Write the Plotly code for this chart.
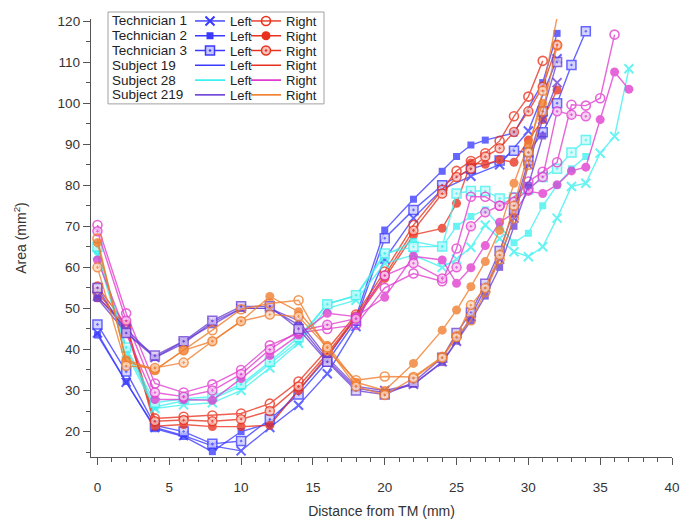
import plotly.graph_objects as go

# ---------------- data (distance from TM in mm, area in mm^2) ----------------
base = [0, 2, 4, 6, 8, 10, 12, 14, 16, 18, 20, 22, 24]

s19_left_t1_x = base + [26, 28, 30, 32]
s19_left_t1_y = [44, 32, 21, 19, 16.5, 15.3, 21, 26.4, 34.1, 45.6, 62, 72, 79, 82.2, 85, 93.2, 110.8]
s19_left_t2_x = base + [25, 26, 27, 29, 31, 32]
s19_left_t2_y = [43.5, 32.2, 20.7, 18.8, 15.1, 20, 22, 30, 38, 48, 69.1, 76.6, 83.4, 87, 89.8, 91, 92.7, 105, 117]
s19_left_t3_x = base + [26, 28, 29, 30, 31, 32, 33, 34]
s19_left_t3_y = [46.1, 34.6, 21.5, 20, 17, 17.7, 23, 29, 37, 47, 67.1, 74, 80, 84, 86, 88.4, 88, 92.9, 100, 109.3, 117.5]

s19_right_t1_x = base + [25, 26, 27, 28, 29, 30, 31]
s19_right_t1_y = [55.3, 46, 23.2, 23.6, 23.9, 24.4, 26.8, 32.2, 40, 48.5, 59, 70.3, 78.9, 83.5, 85.9, 87.8, 90.8, 96.8, 101.6, 110.3]
s19_right_t2_x = base + [25, 26, 27, 28, 29, 30, 31, 32]
s19_right_t2_y = [52.6, 46.1, 21.3, 21.7, 21.2, 21.2, 21.5, 30, 38.5, 47.6, 57.3, 67.9, 69.5, 75.6, 85.4, 85.1, 86.2, 85.6, 91, 96, 103.2]
s19_right_t3_x = base + [25, 26, 27, 28, 29, 30, 31, 32]
s19_right_t3_y = [54, 45, 22.5, 22.8, 22.5, 23, 25, 31, 39, 48, 58, 69, 78, 82, 84, 87, 89, 93, 98, 104, 114.2]

s28_left_t1_x = base + [25, 26, 27, 28, 29, 30, 31, 32, 33, 34, 35, 36, 37]
s28_left_t1_y = [63, 39, 25.6, 26.5, 27, 30, 35.5, 41.5, 50, 52, 61, 63, 60, 62, 64.9, 70.3, 67, 63.8, 62.6, 65, 72, 79.7, 80.5, 87.8, 91.9, 108.4]
s28_left_t2_x = base + [25, 26, 27, 28, 29, 30, 31, 32, 33, 34]
s28_left_t2_y = [64, 40, 26, 27.5, 28, 31, 36.5, 42, 51.2, 53, 63, 66.3, 65, 70, 72.4, 74, 70, 66, 68.3, 75, 80, 84, 87]
s28_left_t3_x = base + [25, 26, 27, 28, 29, 30, 31, 32, 33, 34]
s28_left_t3_y = [65, 40.5, 27, 28, 28.5, 31.5, 37, 43, 51, 53.2, 63.4, 65, 65.1, 78, 78.6, 78.6, 76.8, 77, 79, 82, 84, 88, 91]

s28_right_t1_x = base + [25, 26, 27, 28, 29, 30, 31, 32, 33, 34, 35, 36]
s28_right_t1_y = [70.3, 48.8, 31.7, 29.5, 31.5, 35, 41, 44, 45, 46, 55, 58.5, 56.6, 64.6, 77.2, 77.2, 75, 77, 80.9, 83.3, 85.6, 99.6, 99.4, 101.2, 116.7]
s28_right_t2_x = base + [25, 26, 27, 28, 29, 30, 31, 32, 33, 34, 35, 36, 37]
s28_right_t2_y = [61.8, 43.9, 27.8, 27.8, 27.6, 32.9, 38.5, 43.5, 48.8, 48, 52.7, 62.7, 61.8, 56.1, 59.9, 65.3, 71, 73.2, 78.5, 78, 80.1, 83.5, 84.4, 96, 107.6, 103.4]
s28_right_t3_x = base + [25, 26, 27, 28, 29, 30, 31, 32, 33, 34]
s28_right_t3_y = [68.8, 47, 29.5, 28.5, 30, 34, 40, 44.5, 46, 47.5, 58, 61, 57.3, 60, 70, 73.4, 75, 76, 79, 82, 98, 97.2, 96.8]

s219_left_t1_x = base + [25, 26, 27, 28, 29, 30, 31, 32]
s219_left_t1_y = [53, 45, 38, 41.5, 46.6, 50, 50, 47, 38, 31, 30, 31.5, 37, 42, 48, 55, 62, 72, 85, 96, 105]
s219_left_t2_x = base + [25, 26, 27, 28, 29, 30, 31]
s219_left_t2_y = [52.4, 44, 38, 42, 46, 50, 50, 46, 37.4, 30.5, 29.5, 31.5, 36.8, 42, 47, 53, 60, 70, 80, 92]
s219_left_t3_x = base + [25, 26, 27, 28, 29, 30, 31, 32]
s219_left_t3_y = [55, 44, 38.5, 42, 47, 50.5, 50.5, 45, 37, 30, 29, 32, 38, 44, 49, 56, 64, 74, 86, 98, 110]

s219_right_t1_x = base + [25, 26, 27, 28, 29, 30, 31, 32]
s219_right_t1_y = [67, 37, 35, 39.8, 44.7, 49.8, 51.2, 52, 39.8, 32.5, 33.4, 33.3, 38.2, 43.2, 47.1, 54, 62, 72, 85, 98, 114]
s219_right_t2_x = base + [25, 26, 27, 28, 29, 30, 31]
s219_right_t2_y = [66, 37.5, 35, 39.8, 42, 46.9, 52.9, 49.2, 41, 32, 30, 36.6, 44.7, 49.6, 55.3, 61.4, 69, 80.5, 90, 100]
s219_right_t3_x = base + [25, 26, 27, 28, 29, 30, 31, 32]
s219_right_t3_y = [60, 36, 35.5, 36.8, 42, 46.9, 48.5, 48, 40.5, 31, 28.9, 33, 38, 43, 50.8, 55, 63, 75, 88, 103, 120.9]

subjects = ["Subject 19", "Subject 28", "Subject 219"]
technicians = ["Technician 1", "Technician 2", "Technician 3"]
sides = ["Left", "Right"]

# ---------------- styles ----------------
colors = {
    ("Subject 19", "Left"): "#3a3aff",
    ("Subject 19", "Right"): "#e8321e",
    ("Subject 28", "Left"): "#3ff0f0",
    ("Subject 28", "Right"): "#e03ccf",
    ("Subject 219", "Left"): "#6a3fd6",
    ("Subject 219", "Right"): "#f07c2a",
}
tints = {
    ("Subject 19", "Left"): "#c8c8ff",
    ("Subject 19", "Right"): "#f8c2bb",
    ("Subject 28", "Left"): "#c8fbfb",
    ("Subject 28", "Right"): "#f6c4ef",
    ("Subject 219", "Left"): "#d6c8f4",
    ("Subject 219", "Right"): "#fbd6bc",
}

data = {
    ("Subject 19", "Left"): [(s19_left_t1_x, s19_left_t1_y), (s19_left_t2_x, s19_left_t2_y), (s19_left_t3_x, s19_left_t3_y)],
    ("Subject 19", "Right"): [(s19_right_t1_x, s19_right_t1_y), (s19_right_t2_x, s19_right_t2_y), (s19_right_t3_x, s19_right_t3_y)],
    ("Subject 28", "Left"): [(s28_left_t1_x, s28_left_t1_y), (s28_left_t2_x, s28_left_t2_y), (s28_left_t3_x, s28_left_t3_y)],
    ("Subject 28", "Right"): [(s28_right_t1_x, s28_right_t1_y), (s28_right_t2_x, s28_right_t2_y), (s28_right_t3_x, s28_right_t3_y)],
    ("Subject 219", "Left"): [(s219_left_t1_x, s219_left_t1_y), (s219_left_t2_x, s219_left_t2_y), (s219_left_t3_x, s219_left_t3_y)],
    ("Subject 219", "Right"): [(s219_right_t1_x, s219_right_t1_y), (s219_right_t2_x, s219_right_t2_y), (s219_right_t3_x, s219_right_t3_y)],
}

FONT = "Liberation Sans, Arial, Helvetica, sans-serif"


def marker_for(tech_idx, side, col, tint):
    if side == "Left":
        if tech_idx == 0:
            return dict(symbol="x-thin", size=9, color=col, line=dict(color=col, width=2))
        if tech_idx == 1:
            return dict(symbol="square", size=7, color=col, line=dict(color=col, width=0))
        return dict(symbol="square-dot", size=9, color=tint, line=dict(color=col, width=1.5))
    else:
        if tech_idx == 0:
            return dict(symbol="circle-open", size=9, color=col, line=dict(color=col, width=1.6))
        if tech_idx == 1:
            return dict(symbol="circle", size=9, color=col, line=dict(color=col, width=0))
        return dict(symbol="circle-dot", size=9, color=tint, line=dict(color=col, width=1.5))


fig = go.Figure()

for subj in subjects:
    for side in sides:
        col = colors[(subj, side)]
        tint = tints[(subj, side)]
        for ti, (xs, ys) in enumerate(data[(subj, side)]):
            fig.add_trace(go.Scatter(
                x=xs, y=ys, mode="lines+markers",
                line=dict(color=col, width=1.4),
                marker=marker_for(ti, side, col, tint),
                opacity=0.78, showlegend=False, cliponaxis=False,
                name=f"{technicians[ti]} {subj} {side}",
            ))

# ---------------- geometry (figure pixel coordinates) ----------------
L, R, T, B = 83, 25, 11, 74.5
PW, PH = 689 - L - R, 524 - T - B


def px2x(px):
    return (px - L) / PW


def py2y(py):
    return (T + PH - py) / PH


# ---------------- legend: one single-entry legend per cell ----------------
ROW0, ROWSTEP = 13, 14.8
COL_X = {"Left": 182, "Right": 238}
row_labels = technicians + subjects
layout_legends = {}
k = 0
for ri, lab in enumerate(row_labels):
    for side in sides:
        k += 1
        lname = "legend" if k == 1 else f"legend{k}"
        if ri < 3:
            key = ("Subject 19", side)
            tr = go.Scatter(x=[None], y=[None], mode="lines+markers", name=side,
                            line=dict(color=colors[key], width=1.4),
                            marker=marker_for(ri, side, colors[key], tints[key]),
                            legend=lname, showlegend=True)
        else:
            key = (subjects[ri - 3], side)
            tr = go.Scatter(x=[None], y=[None], mode="lines", name=side,
                            line=dict(color=colors[key], width=1.6),
                            legend=lname, showlegend=True)
        fig.add_trace(tr)
        layout_legends[lname] = dict(
            orientation="h", x=px2x(COL_X[side]), y=py2y(ROW0 + ROWSTEP * ri),
            xanchor="left", yanchor="middle",
            bgcolor="rgba(0,0,0,0)", borderwidth=0,
            font=dict(family=FONT, size=13, color="#222222"),
            itemwidth=30, itemclick=False, itemdoubleclick=False,
        )

annotations = []
for ri, lab in enumerate(row_labels):
    annotations.append(dict(
        text=lab, x=px2x(102), y=py2y(ROW0 + ROWSTEP * ri), xref="paper", yref="paper",
        xanchor="left", yanchor="middle", showarrow=False,
        font=dict(family=FONT, size=13.5, color="#222222"),
    ))

shapes = [dict(type="rect", xref="paper", yref="paper",
               x0=px2x(100), x1=px2x(316), y0=py2y(96), y1=py2y(4),
               line=dict(color="#a0a0a0", width=1), fillcolor="rgba(0,0,0,0)", layer="below")]

axis_font = dict(family=FONT, size=13.5, color="#333333")

fig.update_layout(
    width=689, height=524,
    margin=dict(l=L, r=R, t=T, b=B, autoexpand=False),
    paper_bgcolor="white", plot_bgcolor="white",
    annotations=annotations, shapes=shapes,
    xaxis=dict(
        range=[-0.45, 40], tickmode="linear", tick0=0, dtick=5, automargin=False,
        ticks="outside", ticklen=7, tickwidth=1.2, tickcolor="#555555",
        minor=dict(dtick=1, ticks="outside", ticklen=4, tickcolor="#555555", tickwidth=1),
        showline=True, linecolor="#555555", linewidth=1.3, showgrid=False, zeroline=False,
        tickfont=axis_font, ticklabelstandoff=11,
        title=dict(text="Distance from TM (mm)", font=dict(family=FONT, size=14, color="#333333"), standoff=11),
    ),
    yaxis=dict(
        range=[13.8, 120.5], tickmode="array", tickvals=[20, 30, 40, 50, 60, 70, 80, 90, 100, 110, 120],
        automargin=False,
        ticks="outside", ticklen=7, tickwidth=1.2, tickcolor="#555555",
        minor=dict(tickvals=[15, 25, 35, 45, 55, 65, 75, 85, 95, 105, 115], ticks="outside", ticklen=4, tickcolor="#555555", tickwidth=1),
        showline=True, linecolor="#555555", linewidth=1.3, showgrid=False, zeroline=False,
        tickfont=axis_font,
        title=dict(text="Area (mm<sup>2</sup>)", font=dict(family=FONT, size=14, color="#333333"), standoff=27),
    ),
    **layout_legends,
)

fig.write_html("out.html")
